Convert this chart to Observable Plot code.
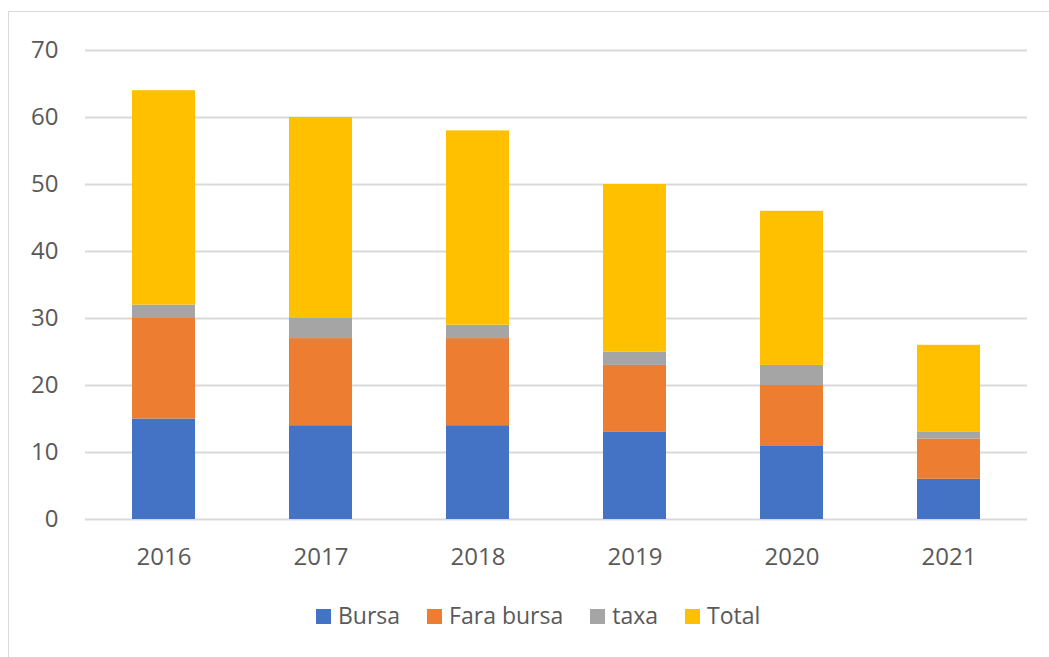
<!DOCTYPE html>
<html>
<head>
<meta charset="utf-8">
<script src="https://cdn.jsdelivr.net/npm/d3@7"></script>
<script src="https://cdn.jsdelivr.net/npm/@observablehq/plot@0.6"></script>
<style>
  html, body { margin: 0; padding: 0; background: #fff; }
  #wrap { position: relative; width: 1049px; height: 657px; overflow: hidden; font-family: "Open Sans", sans-serif; }
  #frame { position: absolute; left: 8px; top: 11px; width: 1060px; height: 670px; border: 1.5px solid #d9d9d9; box-sizing: border-box; }
  #chart { position: absolute; left: 0; top: 0; }
  #legend { position: absolute; top: 598px; left: 316px; display: flex; font-size: 23px; color: #595959; line-height: 34px; }
  .item { display: flex; align-items: center; margin-right: 27px; }
  .sw { width: 15px; height: 15px; margin-right: 7px; margin-top: 2px; display: inline-block; }
</style>
</head>
<body>
<div id="wrap">
  <div id="frame"></div>
  <div id="chart"></div>
  <div id="legend"></div>
</div>
<script>
const years = ["2016", "2017", "2018", "2019", "2020", "2021"];
const seriesNames = ["Bursa", "Fara bursa", "taxa", "Total"];
const bursa = [15, 14, 14, 13, 11, 6];
const faraBursa = [15, 13, 13, 10, 9, 6];
const taxa = [2, 3, 2, 2, 3, 1];
const total = [32, 30, 29, 25, 23, 13];
const colors = ["#4472C4", "#ED7D31", "#A5A5A5", "#FFC000"];
const yTicks = [0, 10, 20, 30, 40, 50, 60, 70];

const seriesValues = [bursa, faraBursa, taxa, total];
const data = [];
years.forEach((y, i) => {
  seriesNames.forEach((s, k) => data.push({year: y, series: s, value: seriesValues[k][i]}));
});

const chart = Plot.plot({
  width: 1049,
  height: 600,
  marginLeft: 85,
  marginRight: 22,
  marginTop: 50,
  marginBottom: 81,
  style: {fontFamily: "Open Sans, sans-serif", fontSize: "24px", color: "#595959", background: "transparent"},
  x: {domain: years, paddingInner: 0.6, paddingOuter: 0.3, label: null},
  y: {domain: [0, 70], label: null},
  color: {domain: seriesNames, range: colors},
  marks: [
    Plot.gridY(yTicks, {stroke: "#d9d9d9", strokeOpacity: 1, strokeWidth: 2}),
    Plot.barY(data, {x: "year", y: "value", fill: "series", order: seriesNames}),
    Plot.axisY(yTicks, {tickSize: 0, tickPadding: 27, label: null, fill: "#595959", fontSize: 24}),
    Plot.axisX({tickSize: 0, tickPadding: 28, label: null, fill: "#595959", fontSize: 24})
  ]
});
document.getElementById("chart").appendChild(chart);

const legend = document.getElementById("legend");
seriesNames.forEach((s, k) => {
  const item = document.createElement("div");
  item.className = "item";
  const sw = document.createElement("span");
  sw.className = "sw";
  sw.style.background = colors[k];
  item.appendChild(sw);
  item.appendChild(document.createTextNode(s));
  legend.appendChild(item);
});
</script>
</body>
</html>
